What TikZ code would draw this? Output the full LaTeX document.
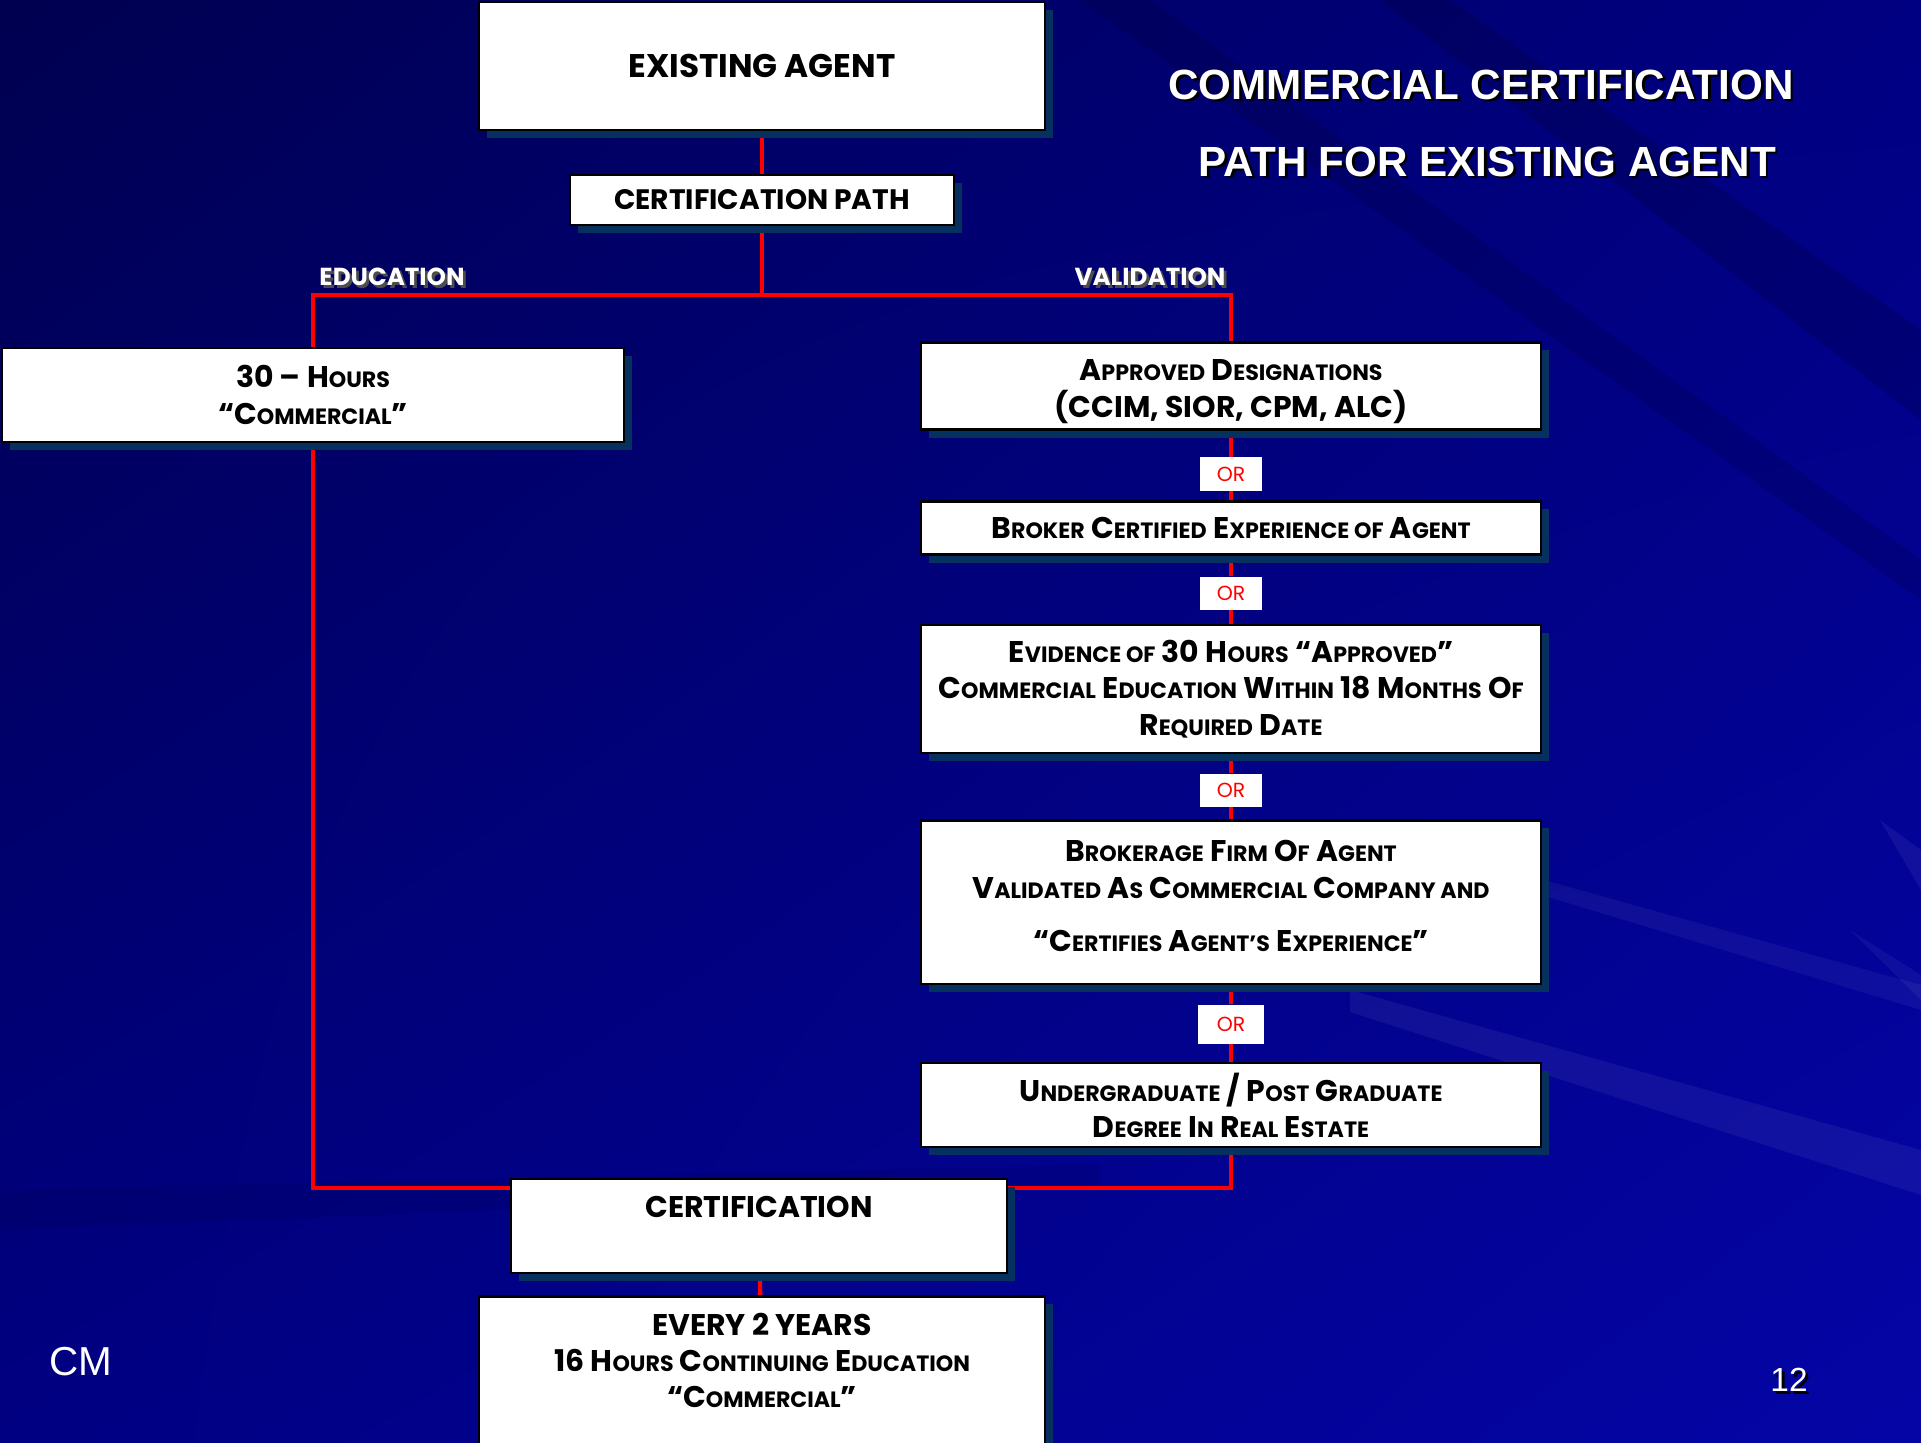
\documentclass[tikz,border=0pt]{standalone}
\usepackage{fontspec}
\setmainfont{Poppins}
\newfontfamily\arialfont{Liberation Sans}
\usetikzlibrary{shadows,shadings,calc}
\pgfdeclarelayer{backdrop}
\pgfdeclarelayer{background}
\pgfsetlayers{backdrop,background,main}

\definecolor{bgdark}{HTML}{000050}
\definecolor{bgmid}{HTML}{000082}
\definecolor{bgbright}{HTML}{0505A6}
\definecolor{linkred}{HTML}{FF0000}
\definecolor{shadowblue}{HTML}{06305E}

% smaller capitals for the small-caps look
\newcommand\sm[1]{{\fontsize{6.3}{8}\selectfont #1}}
% text with a dark offset copy behind it
\newcommand\shtext[2][black]{\makebox[0pt][l]{\hspace{0.8pt}\raisebox{-0.8pt}{\color{#1}#2}}#2}

\tikzset{
  box/.style={draw=black, line width=0.6pt, fill=white, align=center, inner sep=0pt,
    font=\bfseries\fontsize{8.5}{10.3}\selectfont,
    drop shadow={shadow xshift=0.08cm, shadow yshift=-0.08cm, fill=shadowblue, opacity=1}},
  orbox/.style={fill=white, text=linkred, inner sep=0pt, minimum width=0.61cm,
    minimum height=0.33cm, font=\fontsize{5.8}{6}\selectfont},
  branch/.style={text=white, font=\bfseries\fontsize{7}{8}\selectfont},
  heading/.style={text=white, font=\arialfont\bfseries\fontsize{12}{14}\selectfont},
  link/.style={draw=linkred, line width=1.2pt},
}

\begin{document}
\begin{tikzpicture}[x=0.01cm, y=-0.01cm]
    % backdrop
    \begin{pgfonlayer}{backdrop}
    \shade[upper left=bgdark, upper right=bgmid, lower left=bgmid, lower right=bgbright]
        (0,0) rectangle (1921,1442);
    \fill[white, opacity=0.06] (1350,990) -- (1921,1150) -- (1921,1195) -- (1350,1012) -- cycle;
    \fill[white, opacity=0.05] (1400,840) -- (1921,985) -- (1921,1010) -- (1400,852) -- cycle;
    \fill[white, opacity=0.05] (1850,930) -- (1921,975) -- (1921,1000) -- cycle;
    \fill[black, opacity=0.15] (1450,0) -- (1921,330) -- (1921,420) -- (1380,0) -- cycle;
    \fill[black, opacity=0.12] (1150,0) -- (1921,560) -- (1921,600) -- (1080,0) -- cycle;
    \fill[black, opacity=0.07] (0,1190) -- (1100,1165) -- (1100,1185) -- (0,1230) -- cycle;
    \fill[white, opacity=0.06] (1880,820) -- (1921,850) -- (1921,890) -- cycle;
    \end{pgfonlayer}
    \useasboundingbox (0,0) rectangle (1921,1442);

    % boxes
    \node[box, minimum width=5.66cm, minimum height=1.28cm, font=\bfseries\fontsize{9.3}{11}\selectfont]
        (agent) at (762,66) {EXISTING AGENT};
    \node[box, minimum width=3.83cm, minimum height=0.50cm, font=\bfseries\fontsize{8}{10}\selectfont]
        (path) at (762,200) {CERTIFICATION PATH};
    \node[box, minimum width=6.22cm, minimum height=0.94cm] (hours) at (313,395)
        {30 -- H\sm{OURS}\\ “C\sm{OMMERCIAL}”};
    \node[box, minimum width=6.20cm, minimum height=0.87cm] (desig) at (1231,386)
        {\rule{0pt}{0.32cm}A\sm{PPROVED} D\sm{ESIGNATIONS}\\ (CCIM, SIOR, CPM, ALC)};
    \node[box, minimum width=6.20cm, minimum height=0.53cm] (broker) at (1231,528)
        {B\sm{ROKER} C\sm{ERTIFIED} E\sm{XPERIENCE OF} A\sm{GENT}};
    \node[box, minimum width=6.20cm, minimum height=1.28cm] (evid) at (1231,689)
        {E\sm{VIDENCE OF} 30 H\sm{OURS} “A\sm{PPROVED}”\\
         C\sm{OMMERCIAL} E\sm{DUCATION} W\sm{ITHIN} 18 M\sm{ONTHS} O\sm{F}\\
         R\sm{EQUIRED} D\sm{ATE}};
    \node[box, minimum width=6.20cm, minimum height=1.63cm] (firm) at (1231,902)
        {B\sm{ROKERAGE} F\sm{IRM} O\sm{F} A\sm{GENT}\\
         V\sm{ALIDATED} A\sm{S} C\sm{OMMERCIAL} C\sm{OMPANY AND}\\[0.17cm]
         “C\sm{ERTIFIES} A\sm{GENT’S} E\sm{XPERIENCE}”\rule[-0.12cm]{0pt}{0.12cm}};
    \node[box, minimum width=6.20cm, minimum height=0.84cm] (degree) at (1231,1105)
        {U\sm{NDERGRADUATE} / P\sm{OST} G\sm{RADUATE}\\ D\sm{EGREE} I\sm{N} R\sm{EAL} E\sm{STATE}};
    \node[box, minimum width=4.96cm, minimum height=0.94cm] (cert) at (759,1226)
        {CERTIFICATION\rule[-0.38cm]{0pt}{0.38cm}};
    \node[box, minimum width=5.66cm, minimum height=2.03cm] (renew) at (762,1398)
        {EVERY 2 YEARS\\ 16 H\sm{OURS} C\sm{ONTINUING} E\sm{DUCATION}\\
         “C\sm{OMMERCIAL}”\rule[-0.75cm]{0pt}{0.75cm}};

    % or tags
    \node[orbox] (or1) at (1231,474) {OR};
    \node[orbox] (or2) at (1231,593) {OR};
    \node[orbox] (or3) at (1231,790) {OR};
    \node[orbox, minimum width=0.66cm, minimum height=0.39cm] (or4) at (1231,1024) {OR};

    % branch names
    \node[branch] (edu) at (392,278) {\shtext[black!70]{EDUCATION}};
    \node[branch] (val) at (1150,278) {\shtext[black!70]{VALIDATION}};

    % title and footer
    \node[heading] (title1) at (1481,86) {\shtext{COMMERCIAL CERTIFICATION}};
    \node[heading] (title2) at (1487,163) {\shtext{PATH FOR EXISTING AGENT}};
    \node[text=white, font=\arialfont\fontsize{11.5}{13}\selectfont] (cm) at (81,1362) {CM};
    \node[text=white, font=\arialfont\fontsize{9.5}{11}\selectfont] (page) at (1789,1381) {\shtext{12}};

    % red connectors
    \coordinate (split) at (762,295);
    \coordinate (merge) at (762,1188);
    \begin{pgfonlayer}{background}
    \draw[link] (agent) -- (path);
    \draw[link] (path) -- (split);
    \draw[link] (hours) -- (hours |- split) -- (desig |- split) -- (desig);
    \foreach \a/\b in {desig/or1, or1/broker, broker/or2, or2/evid, evid/or3,
                       or3/firm, firm/or4, or4/degree}
        \draw[link] (\a) -- (\b);
    \draw[link] (hours) |- (merge) -| (degree);
    \draw[link] (cert) -- (renew);
    \end{pgfonlayer}
\end{tikzpicture}
\end{document}
